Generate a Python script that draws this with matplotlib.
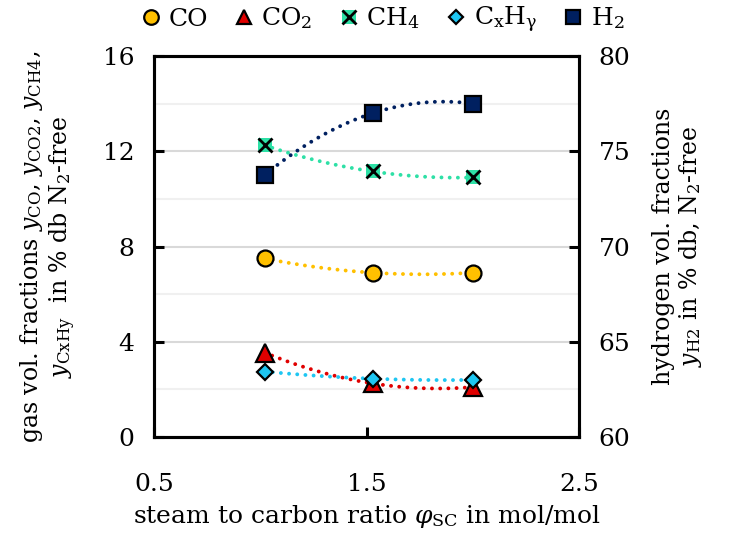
import numpy as np
import matplotlib.pyplot as plt
from matplotlib.lines import Line2D

plt.rcParams['font.family'] = ['DejaVu Serif']
plt.rcParams['mathtext.fontset'] = 'dejavuserif'

# steam to carbon ratio
phi_sc = [1.02, 1.53, 2.0]

# gas fractions in % db, N2-free (left axis)
y_co = [7.5, 6.9, 6.9]
y_co2 = [3.55, 2.25, 2.1]
y_ch4 = [12.25, 11.15, 10.9]
y_cxhy = [2.75, 2.45, 2.4]
# hydrogen fraction (right axis)
y_h2 = [73.75, 77.0, 77.5]

c_co = '#FFC000'
c_co2 = '#E00000'
c_ch4 = '#2EE0A6'
c_cxhy = '#1EC6F2'
c_h2 = '#002060'


def trend(ax, x, y, color):
    # 2nd order polynomial trendline like in the spreadsheet
    p = np.polyfit(x, y, 2)
    xs = np.linspace(min(x), max(x), 200)
    ax.plot(xs, np.polyval(p, xs), ls=(0, (0.01, 2.1)), lw=2.8, color=color,
            dash_capstyle='round', zorder=2)


fig, ax = plt.subplots(figsize=(7.39, 5.33), dpi=100)
fig.subplots_adjust(left=0.2084, right=0.7835, top=0.895, bottom=0.180)
ax2 = ax.twinx()

ms = 11.5
trend(ax, phi_sc, y_co, c_co)
trend(ax, phi_sc, y_co2, c_co2)
trend(ax, phi_sc, y_ch4, c_ch4)
trend(ax, phi_sc, y_cxhy, c_cxhy)
trend(ax2, phi_sc, y_h2, c_h2)

ax.plot(phi_sc, y_co, 'o', ms=ms, mfc=c_co, mec='black', mew=1.6, zorder=3)
ax.plot(phi_sc, y_co2, '^', ms=ms + 1, mfc=c_co2, mec='black', mew=1.6, zorder=3)
ax.plot(phi_sc, y_ch4, 's', ms=ms - 1, mfc=c_ch4, mec=c_ch4, mew=0, zorder=3)
ax.plot(phi_sc, y_ch4, 'x', ms=ms - 1, mec='black', mew=2.0, zorder=4)
ax.plot(phi_sc, y_cxhy, 'D', ms=ms - 3, mfc=c_cxhy, mec='black', mew=1.6, zorder=3)
ax2.plot(phi_sc, y_h2, 's', ms=ms, mfc=c_h2, mec='black', mew=1.6, zorder=3)

ax.set_xlim(0.5, 2.5)
ax.set_ylim(0, 16)
ax2.set_ylim(60, 80)
ax.set_xticks([0.5, 1.5, 2.5])
ax.set_xticklabels(['0.5', '1.5', '2.5'])
ax.set_yticks([0, 4, 8, 12, 16])
ax.set_yticks([2, 6, 10, 14], minor=True)
ax2.set_yticks([60, 65, 70, 75, 80])

ax.grid(axis='y', which='major', color='#D9D9D9', lw=1.5)
ax.grid(axis='y', which='minor', color='#F0F0F0', lw=1.5)
ax.set_axisbelow(True)

for a in (ax, ax2):
    for s in a.spines.values():
        s.set_linewidth(2.2)
ax.tick_params(axis='both', which='major', direction='in', length=7, width=2.2, labelsize=18)
ax.tick_params(axis='x', pad=26)
ax.tick_params(axis='y', which='minor', length=0)
ax.tick_params(axis='y', pad=14)
ax2.tick_params(axis='y', direction='in', length=7, width=2.2, labelsize=18, pad=14)

ax.set_xlabel(r'steam to carbon ratio $\varphi_{\mathrm{SC}}$ in mol/mol', fontsize=18, labelpad=5)
ax.set_ylabel('gas vol. fractions $y_{\\mathrm{CO}}$, $y_{\\mathrm{CO2}}$, $y_{\\mathrm{CH4}}$,\n'
              '$y_{\\mathrm{CxHy}}$  in % db N$_2$-free', fontsize=17, linespacing=1.1, labelpad=18)
ax2.set_ylabel('hydrogen vol. fractions\n$y_{\\mathrm{H2}}$ in % db, N$_2$-free', fontsize=17,
               linespacing=1.1, labelpad=16)

handles = [
    Line2D([], [], ls='', marker='o', ms=ms - 1, mfc=c_co, mec='black', mew=1.6),
    Line2D([], [], ls='', marker='^', ms=ms - 1, mfc=c_co2, mec='black', mew=1.6),
    (Line2D([], [], ls='', marker='s', ms=ms - 2, mfc=c_ch4, mec=c_ch4, mew=0),
     Line2D([], [], ls='', marker='x', ms=ms - 2, mec='black', mew=2.0)),
    Line2D([], [], ls='', marker='D', ms=ms - 4, mfc=c_cxhy, mec='black', mew=1.6),
    Line2D([], [], ls='', marker='s', ms=ms - 1, mfc=c_h2, mec='black', mew=1.6),
]
labels = ['CO', 'CO$_2$', 'CH$_4$', 'C$_\\mathrm{x}$H$_\\mathrm{\\gamma}$', 'H$_2$']
fig.legend(handles, labels, loc='center', bbox_to_anchor=(0.515, 0.962), ncol=5,
           frameon=False, fontsize=18, handletextpad=0.15, columnspacing=0.9,
           handlelength=1.1)

fig.savefig('out.png', dpi=100)
